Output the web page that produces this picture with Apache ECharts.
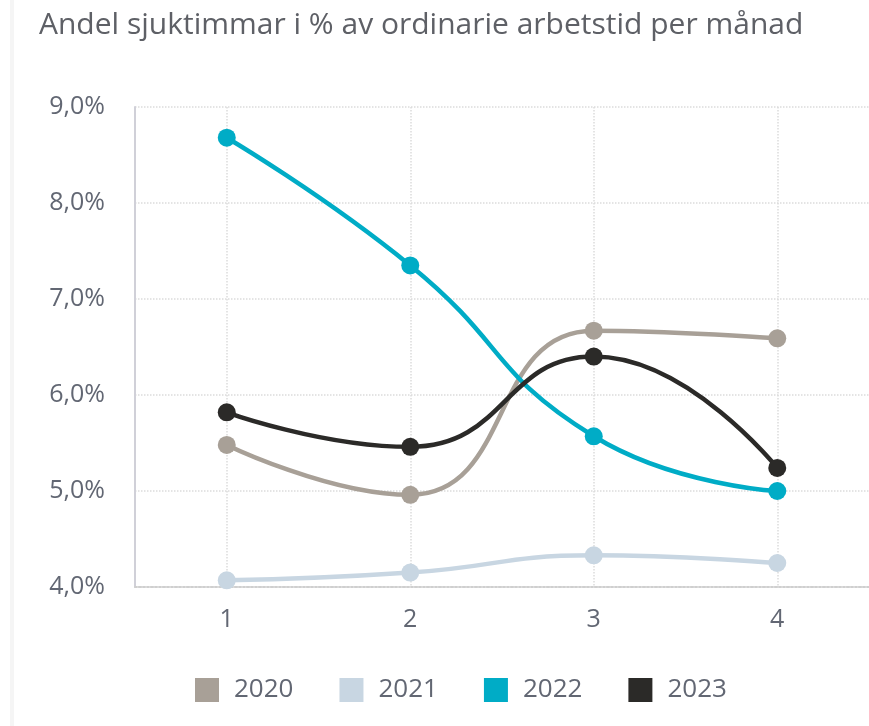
<!DOCTYPE html>
<html>
<head>
<meta charset="utf-8">
<script src="https://cdn.jsdelivr.net/npm/echarts@6/dist/echarts.min.js"></script>
<style>
	html, body { margin: 0; padding: 0; background: #fff; }
	#chart { width: 869px; height: 726px; }
</style>
</head>
<body>
<div id="chart"></div>
<script>
// månader (x-axel)
const months = ['1', '2', '3', '4']
const years = ['2020', '2021', '2022', '2023']
// andel sjuktimmar i %
const v2020 = [5.48, 4.96, 6.67, 6.59]
const v2021 = [4.07, 4.15, 4.33, 4.25]
const v2022 = [8.68, 7.35, 5.57, 5.00]
const v2023 = [5.82, 5.46, 6.40, 5.24]
const yTicks = [4, 5, 6, 7, 8, 9]

const colors = ['#a8a097', '#c8d6e2', '#00acc6', '#2b2a28']
const values = [v2020, v2021, v2022, v2023]
const textColor = '#626773'
const font = '"Open Sans", sans-serif'

let myChart = echarts.init(document.getElementById('chart'))
let option = {
	animation: false,
	textStyle: { fontFamily: font },
	title: {
		text: 'Andel sjuktimmar i % av ordinarie arbetstid per månad',
		left: 34,
		top: 5,
		textStyle: { fontSize: 30, fontWeight: 'normal', color: '#5e6066', fontFamily: font }
	},
	graphic: [{
		type: 'rect',
		shape: { x: 10, y: 0, width: 4, height: 726 },
		style: { fill: '#f5f5f5' }
	}],
	legend: {
		bottom: 18,
		left: 190,
		itemWidth: 24,
		itemHeight: 24,
		itemGap: 46,
		icon: 'rect',
		textStyle: { fontSize: 26, color: textColor, padding: [0, 0, 0, 10] },
		data: years
	},
	grid: { left: 135, right: 0, top: 107, bottom: 139 },
	xAxis: {
		type: 'category',
		data: months,
		boundaryGap: true,
		axisLine: { lineStyle: { color: '#cfcfcf', width: 2, type: 'dotted' } },
		axisTick: { show: false },
		axisLabel: { fontSize: 25, color: textColor, margin: 20 },
		splitLine: {
			show: true,
			alignWithLabel: true,
			lineStyle: { color: '#dcdcdc', type: 'dotted', width: 1.5 }
		}
	},
	yAxis: {
		type: 'value',
		min: yTicks[0],
		max: yTicks[yTicks.length - 1],
		interval: 1,
		axisLine: { show: true, lineStyle: { color: '#d0d0d8', width: 2 } },
		axisTick: { show: false },
		axisLabel: {
			fontSize: 25,
			color: textColor,
			margin: 30,
			formatter: v => v.toFixed(1).replace('.', ',') + '%'
		},
		splitLine: { lineStyle: { color: '#dcdcdc', type: 'dotted', width: 1.5 } }
	},
	series: years.map((y, i) => ({
		name: y,
		type: 'line',
		data: values[i],
		smooth: 0.5,
		symbol: 'circle',
		symbolSize: 18,
		lineStyle: { width: 4.5, color: colors[i] },
		itemStyle: { color: colors[i] }
	}))
}
myChart.setOption(option)
</script>
</body>
</html>
